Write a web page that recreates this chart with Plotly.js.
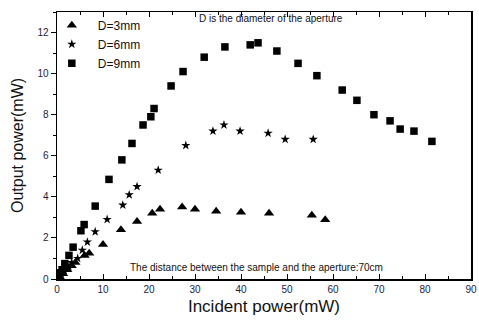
<!DOCTYPE html>
<html>
<head>
<meta charset="utf-8">
<script src="https://cdn.plot.ly/plotly-3.0.1.min.js"></script>
<style>html,body{margin:0;padding:0;background:#fff;}#chart{width:479px;height:322px;}</style>
</head>
<body>
<div id="chart"></div>
<script>
// D = 3 mm (triangles)
var d3x = [0.6, 1.3, 2.2, 3.2, 4.0, 6.0, 7.0, 10.0, 13.9, 17.4, 20.7, 22.4, 27.2, 30.0, 34.6, 40.0, 46.1, 55.4, 58.3];
var d3y = [0.1, 0.25, 0.45, 0.65, 0.8, 1.15, 1.25, 1.68, 2.4, 2.8, 3.2, 3.4, 3.5, 3.4, 3.3, 3.25, 3.2, 3.1, 2.88];
// D = 6 mm (stars)
var d6x = [0.4, 0.9, 1.6, 2.6, 3.2, 4.5, 5.5, 6.6, 8.3, 10.9, 14.3, 15.7, 17.4, 22.0, 28.0, 33.9, 36.3, 39.8, 45.9, 49.6, 55.7];
var d6y = [0.1, 0.2, 0.4, 0.6, 0.8, 1.0, 1.4, 1.8, 2.3, 2.9, 3.6, 4.1, 4.5, 5.3, 6.5, 7.2, 7.5, 7.2, 7.1, 6.8, 6.8];
// D = 9 mm (squares)
var d9x = [0.3, 0.7, 1.1, 1.7, 2.6, 3.5, 5.2, 5.9, 8.3, 11.3, 14.1, 16.3, 18.7, 20.4, 21.1, 24.8, 27.4, 32.0, 36.5, 42.0, 43.7, 47.8, 52.4, 56.5, 62.0, 65.2, 68.9, 72.4, 74.6, 77.6, 81.5];
var d9y = [0.15, 0.3, 0.45, 0.75, 1.15, 1.55, 2.35, 2.65, 3.55, 4.85, 5.8, 6.6, 7.5, 7.9, 8.3, 9.4, 10.1, 10.8, 11.3, 11.4, 11.5, 11.1, 10.5, 9.9, 9.2, 8.7, 8.0, 7.7, 7.3, 7.2, 6.7];

var seriesNames = ["D=3mm", "D=6mm", "D=9mm"];
var xTitle = "Incident power(mW)";
var yTitle = "Output power(mW)";
var note1 = "D is the diameter of the aperture";
var note2 = "The distance between the sample and the aperture:70cm";

var mk = function(sym, size){ return {symbol: sym, size: size, color: '#000', line: {width: 0}}; };

var traces = [
  {x: d3x, y: d3y, name: seriesNames[0], type: 'scatter', mode: 'markers', marker: mk('triangle-up', 9)},
  {x: d6x, y: d6y, name: seriesNames[1], type: 'scatter', mode: 'markers', marker: mk('star', 7)},
  {x: d9x, y: d9y, name: seriesNames[2], type: 'scatter', mode: 'markers', marker: mk('square', 7.5)}
];

var tickFont = {family: 'Liberation Sans, Arial, sans-serif', size: 10, color: '#1c1c38'};
var layout = {
  width: 479, height: 322,
  margin: {l: 57, r: 8, t: 12, b: 43},
  paper_bgcolor: '#fff', plot_bgcolor: '#fff',
  showlegend: true,
  legend: {x: -0.027, y: 1.005, xanchor: 'left', yanchor: 'top', bgcolor: 'rgba(0,0,0,0)',
           font: {family: 'Liberation Sans, Arial, sans-serif', size: 12, color: '#111'},
           itemwidth: 42, tracegroupgap: 0, itemsizing: 'trace'},
  xaxis: {range: [0, 90], dtick: 10, tick0: 0, showgrid: false, zeroline: false,
          showline: true, linecolor: '#000', linewidth: 1.5, mirror: 'ticks',
          ticks: 'inside', ticklen: 5, tickwidth: 1, tickcolor: '#000',
          minor: {dtick: 5, ticks: 'inside', ticklen: 3, tickcolor: '#000', showgrid: false},
          tickfont: tickFont,
          title: {text: xTitle, font: {family: 'Liberation Sans, Arial, sans-serif', size: 17, color: '#111'}, standoff: 6}},
  yaxis: {range: [0, 13], dtick: 2, tick0: 0, showgrid: false, zeroline: false,
          showline: true, linecolor: '#000', linewidth: 1.5, mirror: true,
          ticks: 'outside', ticklen: 5, tickwidth: 1, tickcolor: '#000',
          minor: {dtick: 1, ticks: 'outside', ticklen: 3, tickcolor: '#000', showgrid: false},
          tickfont: tickFont,
          title: {text: yTitle, font: {family: 'Liberation Sans, Arial, sans-serif', size: 16, color: '#111'}, standoff: 10}},
  yaxis2: {range: [0, 13], dtick: 2, overlaying: 'y', side: 'right', anchor: 'x',
           showgrid: false, zeroline: false, showline: false, showticklabels: false,
           ticks: 'inside', ticklen: 5, tickwidth: 1, tickcolor: '#000',
           minor: {dtick: 1, ticks: 'inside', ticklen: 3, tickcolor: '#000', showgrid: false}},
  annotations: [
    {text: note1, xref: 'paper', yref: 'paper', x: 0.338, y: 0.975, xanchor: 'left', yanchor: 'middle',
     showarrow: false, font: {family: 'Liberation Sans, Arial, sans-serif', size: 10, color: '#111'}},
    {text: note2, xref: 'paper', yref: 'paper', x: 0.171, y: 0.044, xanchor: 'left', yanchor: 'middle',
     showarrow: false, font: {family: 'Liberation Sans, Arial, sans-serif', size: 10, color: '#111'}}
  ]
};

Plotly.newPlot('chart', traces, layout, {displayModeBar: false, staticPlot: true});
</script>
</body>
</html>
